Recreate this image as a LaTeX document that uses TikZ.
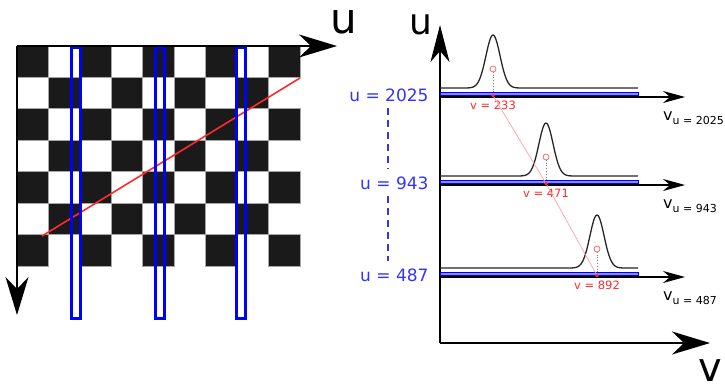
\documentclass[tikz,border=0pt]{standalone}
\usepackage{fontspec}
\setmainfont{DejaVu Sans}
\usetikzlibrary{arrows.meta,positioning}
\definecolor{boardDark}{HTML}{1A1A1A}
\definecolor{sliceBlue}{HTML}{0000FF}
\definecolor{labelBlue}{HTML}{3333FF}
\definecolor{peakRed}{HTML}{FF2A2A}
\tikzset{
  bigaxis/.style={line width=2pt,-{Stealth[length=38pt,width=23pt,inset=12pt]}},
  tallaxis/.style={line width=2pt,-{Stealth[length=37pt,width=19pt,inset=11pt]}},
  rowaxis/.style={line width=1.5pt,-{Stealth[length=22pt,width=12pt,inset=7pt]}},
  cell/.style={fill=boardDark,draw=gray!70,line width=0.8pt},
  slice/.style={draw=sliceBlue,line width=2.6pt},
  band/.style={draw=sliceBlue,fill=sliceBlue!45,line width=0.8pt},
  curve/.style={draw=black!85,line width=1.3pt},
  ulabel/.style={text=labelBlue,font=\fontsize{17}{19}\selectfont,anchor=east},
  vlabel/.style={text=peakRed,font=\fontsize{11.5}{13}\selectfont,anchor=north,inner sep=1pt},
  axlabel/.style={font=\fontsize{16}{18}\selectfont,anchor=base west,inner sep=0pt},
  biglabel/.style={font=\fontsize{42}{44}\selectfont,inner sep=0pt},
  gap/.style={labelBlue,line width=1.2pt,dash pattern=on 7pt off 5pt,shorten >=4pt,shorten <=3pt},
  peak/.style={draw=peakRed!70,fill=white,line width=0.8pt}
}

\begin{document}
\begin{tikzpicture}[x=1pt,y=-1pt]
  \useasboundingbox (0,0) rectangle (725,391);
  % checkerboard
  \foreach \r in {0,...,6}{
    \foreach \c in {0,...,8}{
      \pgfmathtruncatemacro{\odd}{mod(\r+\c,2)}
      \ifnum\odd=0
        \path[cell] ({17+31.44*\c},{46+31.43*\r}) rectangle +(31.44,31.43);
      \fi
    }
  }
  \coordinate (diagA) at (42,236);
  \coordinate (diagB) at (300,78);
  \draw[peakRed,line width=1.6pt] (diagA) -- (diagB);
  \foreach \x/\n in {70/sa,154/sb,235/sc}{
    \draw[slice] (\x+1.3,47.5) rectangle (\x+10.7,318.7);
  }
  \coordinate (origin) at (17,46);
  \coordinate (utip) at (337,46);
  \coordinate (vtip) at (17,315);
  \draw[bigaxis] (origin) -- (utip);
  \draw[bigaxis] (origin) -- (vtip);
  \node[biglabel] (ubig) at (344,22) {u};

  % profiles
  \coordinate (origin2) at (440,343);
  \coordinate (u2tip) at (440,25);
  \coordinate (v2tip) at (710,343);
  \draw[tallaxis] (origin2) -- (u2tip);
  \draw[bigaxis] (origin2) -- (v2tip);
  \node[biglabel,font=\fontsize{36}{38}\selectfont,anchor=base] (uright) at (421,34.5) {u};
  \node[biglabel,font=\fontsize{40}{42}\selectfont,anchor=base] (vright) at (710,381) {v};

  \foreach \ax/\cx/\uval/\vval/\nm in {97/493/2025/233/a,185/546/943/471/b,277/597/487/892/c}{
    \draw[band] (440,\ax-4.2) rectangle (638,\ax-1.4);
    \draw[rowaxis] (440,\ax) -- (685,\ax);
    \draw[curve] (440,\ax-9) -- plot[domain=\cx-30:\cx+30,samples=61]
      (\x,{\ax-9-53*exp(-((\x-\cx)/10)^2)}) -- (638,\ax-9);
    \coordinate (pk\nm) at (\cx,\ax-28);
    \coordinate (dt\nm) at (\cx,\ax-1.5);
    \node[ulabel] (u\nm) at (432,\ax-2) {u = \uval};
    \node[vlabel] (v\nm) at (\cx,\ax+3) {v = \vval};
    \node[axlabel] (ax\nm) at (663,\ax+23)
      {v\raisebox{-4pt}{\fontsize{11}{13}\selectfont u = \uval}};
  }
  \draw[peakRed!45,line width=0.7pt] (dta) -- (dtb) -- (dtc);
  \foreach \nm in {a,b,c}{
    \draw[gray,dotted,line width=0.8pt] (pk\nm) -- (dt\nm);
    \draw[peak] (pk\nm) circle (3pt);
    \fill[peakRed] (dt\nm) circle (1.8pt);
  }
  \coordinate (dashx) at (388,0);
  \draw[gap] (ua.south -| dashx) -- (ub.north -| dashx);
  \draw[gap] (ub.south -| dashx) -- (uc.north -| dashx);
\end{tikzpicture}
\end{document}
